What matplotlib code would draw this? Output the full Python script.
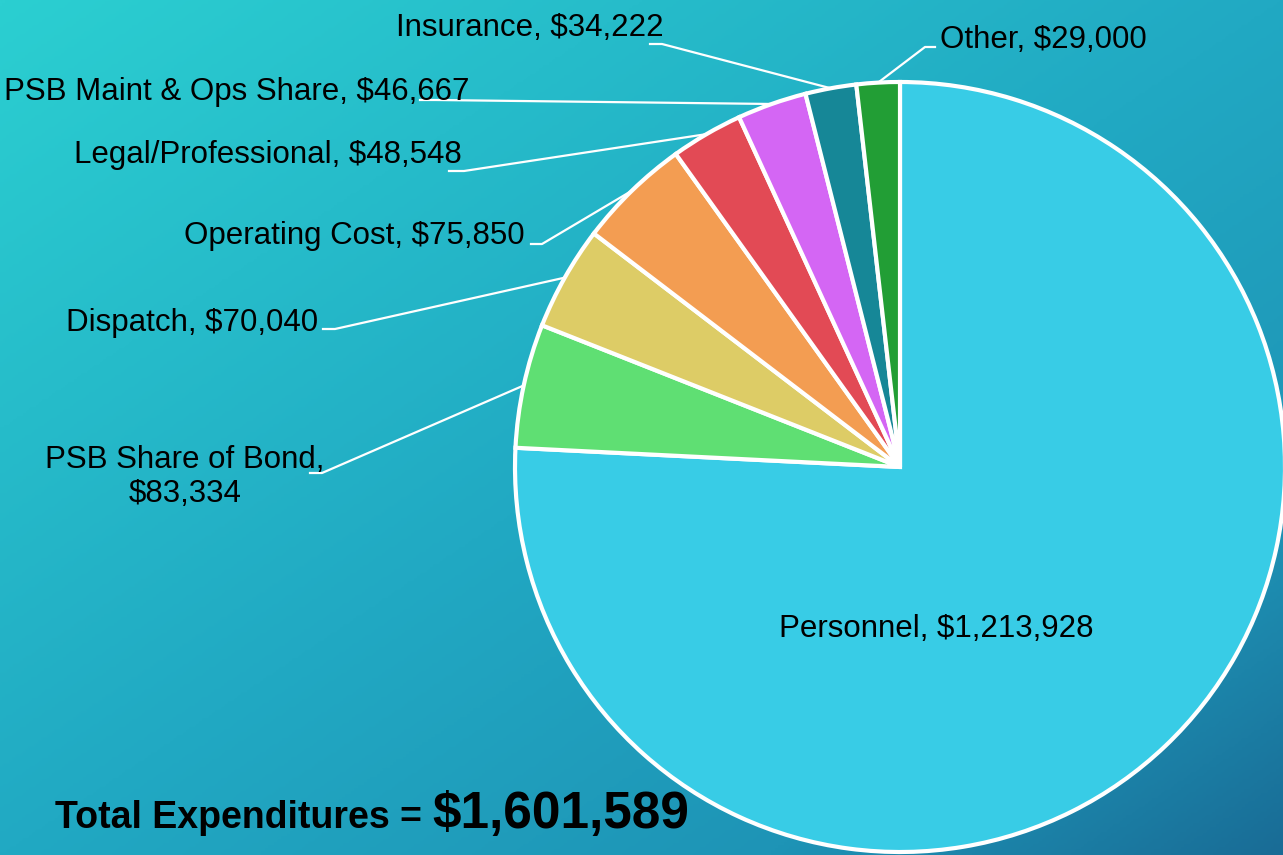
import matplotlib.pyplot as plt
import numpy as np
from matplotlib.colors import LinearSegmentedColormap

# Expenditure breakdown, clockwise from the top
categories = ["Personnel", "PSB Share of Bond", "Dispatch", "Operating Cost",
              "Legal/Professional", "PSB Maint & Ops Share", "Insurance", "Other"]
amounts = [1213928, 83334, 70040, 75850, 48548, 46667, 34222, 29000]
colors = ["#38cce6", "#5fdf73", "#ddcc66", "#f39d52", "#e24a55", "#d466f4", "#168797", "#229e35"]

W, H = 1283, 855
label_font = ['Liberation Sans', 'DejaVu Sans']

def py(y):
    # pixel row from the top -> data y
    return H - y

fig = plt.figure(figsize=(W / 100, H / 100), dpi=100)

# background gradient
bg = fig.add_axes([0, 0, 1, 1])
xx, yy = np.meshgrid(np.linspace(0, 1, 400), np.linspace(0, 1, 300))
t = (xx + yy) / 2
cmap = LinearSegmentedColormap.from_list("bg", [(0, "#2bcfd1"), (0.5, "#21a9c3"),
                                                (0.8, "#1e94b6"), (1, "#196c96")])
bg.imshow(t, cmap=cmap, aspect="auto", extent=[0, 1, 0, 1], origin="upper")
bg.axis("off")

ax = fig.add_axes([0, 0, 1, 1])
ax.patch.set_alpha(0)
cx, cy, r = 900, py(467), 385
wedges, _ = ax.pie(amounts, colors=colors, startangle=90, counterclock=False,
                   center=(cx, cy), radius=r, frame=True,
                   wedgeprops=dict(edgecolor="white", linewidth=3))
ax.set_xlim(0, W)
ax.set_ylim(0, H)
ax.set_aspect("equal")
ax.axis("off")

labels = []
for c, a in zip(categories, amounts):
    if c == "PSB Share of Bond":
        labels.append(f"{c},\n${a:,}")
    else:
        labels.append(f"{c}, ${a:,}")

# text anchors (x, y from top, ha) and leader ticks (x start, x end, y)
label_pos = [(936, 629, "center"), (185, 477, "center"), (318, 323, "right"),
             (525, 236, "right"), (462, 155, "right"), (470, 92, "right"),
             (664, 28, "right"), (940, 40, "left")]
leaders = [None, (310, 322, 473), (323, 335, 329), (531, 542, 244),
           (449, 464, 171), (420, 436, 100), (650, 662, 44), (935, 925, 47)]

for w, lab, pos, ld in zip(wedges, labels, label_pos, leaders):
    ax.text(pos[0], py(pos[1]), lab, ha=pos[2], va="center", fontsize=22.5,
            family=label_font, color="black", multialignment="center",
            linespacing=1.15)
    if ld is None:
        continue
    mid = np.deg2rad((w.theta1 + w.theta2) / 2)
    ex = cx + r * np.cos(mid)
    ey = cy + r * np.sin(mid)
    ax.plot([ld[0], ld[1], ex], [py(ld[2]), py(ld[2]), ey], color="white", lw=1.6)

t1 = ax.text(55, py(828), "Total Expenditures = ", fontsize=27, fontweight="bold",
             family=label_font, va="baseline")
renderer = fig.canvas.get_renderer()
bb = t1.get_window_extent(renderer)
x2 = ax.transData.inverted().transform((bb.x1, 0))[0]
ax.text(x2, py(828), f"${sum(amounts):,}", fontsize=37, fontweight="bold",
        family=label_font, va="baseline")

fig.savefig("out.png", dpi=100)
